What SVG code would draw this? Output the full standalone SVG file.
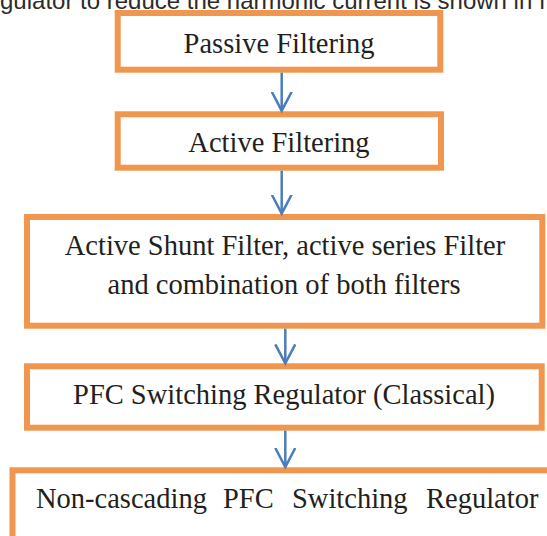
<svg xmlns="http://www.w3.org/2000/svg" width="547" height="536" viewBox="0 0 547 536">
<style>
.box{fill:#ffffff;stroke:#F0964E;stroke-width:6}
.t{font-family:"Liberation Serif","Times New Roman",serif;font-size:28.5px;fill:#231f20;text-anchor:middle}
.conn{stroke:#4A7EBB;stroke-width:2.5;fill:none}
.top{font-family:"Liberation Sans",Arial,sans-serif;font-size:24px;fill:#2b2b2b}
</style>
<defs>
<marker id="arr" markerUnits="userSpaceOnUse" viewBox="0 0 22 22" markerWidth="22" markerHeight="22" refX="19" refY="11" orient="auto">
<polyline points="0,1 19,11 0,21" fill="none" stroke="#4A7EBB" stroke-width="2.5"/>
</marker>
</defs>
<rect width="547" height="536" fill="#ffffff"/>
<text class="top" x="0" y="9">gulator to reduce the harmonic current is shown in f</text>
<g id="n1">
<rect class="box" x="117.7" y="13" width="322.6" height="56.7"/>
<text class="t" x="279" y="52.7">Passive Filtering</text>
</g>
<g id="n2">
<rect class="box" x="117.7" y="114.3" width="323.3" height="53.4"/>
<text class="t" x="279" y="152">Active Filtering</text>
</g>
<g id="n3">
<rect class="box" x="27" y="217" width="515.3" height="108.7"/>
<text class="t" x="285" y="255">Active Shunt Filter, active series Filter</text>
<text class="t" x="284" y="293.5">and combination of both filters</text>
</g>
<g id="n4">
<rect class="box" x="27" y="366.3" width="514.7" height="61.4"/>
<text class="t" x="284" y="404">PFC Switching Regulator (Classical)</text>
</g>
<g id="n5">
<rect class="box" x="12.5" y="470.3" width="600" height="120"/>
<text class="t" y="508" style="text-anchor:start"><tspan x="36">Non-cascading</tspan><tspan x="223">PFC</tspan><tspan x="292">Switching</tspan><tspan x="426">Regulator</tspan></text>
</g>
<g id="connectors">
<line class="conn" x1="281.7" y1="72.7" x2="281.7" y2="110.7" marker-end="url(#arr)"/>
<line class="conn" x1="281.7" y1="170.7" x2="281.7" y2="213.5" marker-end="url(#arr)"/>
<line class="conn" x1="285.3" y1="328.7" x2="285.3" y2="363.3" marker-end="url(#arr)"/>
<line class="conn" x1="285.3" y1="430.7" x2="285.3" y2="467" marker-end="url(#arr)"/>
</g>
</svg>
